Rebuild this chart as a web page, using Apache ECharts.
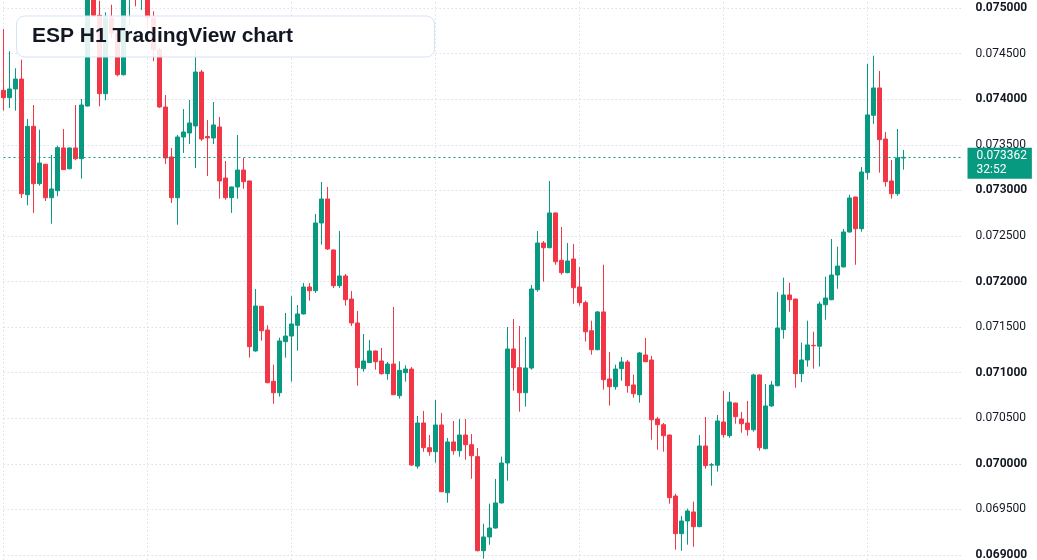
<!DOCTYPE html>
<html>
<head>
<meta charset="utf-8">
<title>ESP H1 TradingView chart</title>
<script src="https://cdn.jsdelivr.net/npm/echarts@6.0.0/dist/echarts.min.js"></script>
<style>
  html, body { margin: 0; padding: 0; background: #ffffff; overflow: hidden; }
  /* the price pane runs past the visible window at top and bottom, like the screenshot */
  #main { width: 1037px; height: 639px; margin-top: -38px; }
</style>
</head>
<body>
<div id="main"></div>
<script>
// ESP H1 candles, oldest first (151 bars)
const opens = [
  0.074097, 0.074016, 0.074112, 0.074221, 0.072952, 0.073702, 0.073073, 0.073286, 0.072919, 0.072996,
  0.073465, 0.073237, 0.073465, 0.073347, 0.073925, 0.075180, 0.074920, 0.074060, 0.074891, 0.074726,
  0.074268, 0.075150, 0.075240, 0.075120, 0.075200, 0.074891, 0.074543, 0.073914, 0.073366, 0.072919,
  0.073585, 0.073629, 0.073706, 0.074298, 0.073590, 0.073574, 0.073695, 0.073135, 0.072919, 0.073037,
  0.073223, 0.073103, 0.071238, 0.071728, 0.071468, 0.070905, 0.070780, 0.071340, 0.071402, 0.071520,
  0.071644, 0.071940, 0.071899, 0.072642, 0.072905, 0.072346, 0.071954, 0.072061, 0.071808, 0.071545,
  0.071044, 0.071110, 0.071238, 0.071128, 0.070989, 0.071095, 0.070747, 0.071000, 0.071040, 0.069975,
  0.070448, 0.070177, 0.070133, 0.070426, 0.069683, 0.070240, 0.070144, 0.070316, 0.070210, 0.070079,
  0.069047, 0.069198, 0.069296, 0.069571, 0.070009, 0.071260, 0.071055, 0.070780, 0.071051, 0.071910,
  0.072422, 0.072371, 0.072752, 0.072232, 0.072097, 0.072247, 0.071940, 0.071768, 0.071460, 0.071252,
  0.071666, 0.070931, 0.070846, 0.071044, 0.071117, 0.070865, 0.070758, 0.071194, 0.071139, 0.070492,
  0.070429, 0.070316, 0.069647, 0.069234, 0.069373, 0.069472, 0.069311, 0.070196, 0.069987, 0.069985,
  0.070459, 0.070309, 0.070667, 0.070492, 0.070448, 0.070374, 0.070975, 0.070166, 0.070635, 0.070857,
  0.071472, 0.071852, 0.071808, 0.070989, 0.071139, 0.071300, 0.071290, 0.071745, 0.071800, 0.072071,
  0.072160, 0.072543, 0.072927, 0.072579, 0.073195, 0.073823, 0.074123, 0.073563, 0.073103, 0.072963,
  0.073355
];
const highs = [
  0.074770, 0.074525, 0.074339, 0.074433, 0.073783, 0.073936, 0.073665, 0.073290, 0.073388, 0.073490,
  0.073673, 0.073470, 0.073936, 0.074002, 0.075230, 0.075260, 0.075080, 0.074953, 0.075036, 0.074760,
  0.075220, 0.075330, 0.075310, 0.075280, 0.075230, 0.074964, 0.074560, 0.074046, 0.073465, 0.073607,
  0.073892, 0.073991, 0.074543, 0.074320, 0.073772, 0.073969, 0.073805, 0.073322, 0.073040, 0.073607,
  0.073355, 0.073105, 0.071918, 0.071731, 0.071520, 0.071088, 0.071384, 0.071655, 0.071838, 0.071742,
  0.071984, 0.071984, 0.072741, 0.073092, 0.073037, 0.072350, 0.072554, 0.072082, 0.071896, 0.071677,
  0.071424, 0.071358, 0.071240, 0.071271, 0.071117, 0.071720, 0.071125, 0.071081, 0.071062, 0.070525,
  0.070580, 0.070316, 0.070700, 0.070558, 0.070284, 0.070470, 0.070492, 0.070492, 0.070327, 0.070174,
  0.069343, 0.069563, 0.069834, 0.070079, 0.071501, 0.071589, 0.071512, 0.071391, 0.071962, 0.072554,
  0.072444, 0.073103, 0.072755, 0.072598, 0.072422, 0.072412, 0.072159, 0.071790, 0.071570, 0.071677,
  0.072184, 0.071227, 0.071088, 0.071172, 0.071139, 0.070978, 0.071227, 0.071380, 0.071183, 0.070514,
  0.070448, 0.070320, 0.069672, 0.069428, 0.069508, 0.069585, 0.070316, 0.070514, 0.070009, 0.070536,
  0.070799, 0.070788, 0.070670, 0.070569, 0.070689, 0.070989, 0.070980, 0.070876, 0.070909, 0.071885,
  0.072042, 0.071987, 0.071810, 0.071329, 0.071570, 0.071449, 0.071779, 0.072053, 0.072466, 0.072382,
  0.072576, 0.072952, 0.072930, 0.073256, 0.074386, 0.074477, 0.074309, 0.073640, 0.073333, 0.073673,
  0.073443
];
const lows = [
  0.073874, 0.073903, 0.073874, 0.072916, 0.072836, 0.072752, 0.073051, 0.072883, 0.072634, 0.072935,
  0.073225, 0.073230, 0.073330, 0.073128, 0.073920, 0.074910, 0.073922, 0.073988, 0.074671, 0.074251,
  0.074260, 0.074817, 0.075019, 0.074978, 0.074781, 0.074416, 0.073905, 0.073289, 0.072861, 0.072623,
  0.073410, 0.073508, 0.073245, 0.073541, 0.073157, 0.073508, 0.072908, 0.072897, 0.072752, 0.072908,
  0.073018, 0.071164, 0.071230, 0.071351, 0.070885, 0.070660, 0.070737, 0.071164, 0.070901, 0.071241,
  0.071640, 0.071790, 0.071874, 0.072404, 0.072346, 0.071929, 0.071929, 0.071735, 0.071512, 0.070857,
  0.071011, 0.071105, 0.071033, 0.070978, 0.070923, 0.070755, 0.070715, 0.070901, 0.069976, 0.069947,
  0.070133, 0.070089, 0.070013, 0.069690, 0.069574, 0.070100, 0.070078, 0.070045, 0.069837, 0.069040,
  0.068960, 0.069113, 0.069290, 0.069565, 0.069815, 0.070802, 0.070572, 0.070627, 0.071033, 0.071888,
  0.071998, 0.072365, 0.072184, 0.072075, 0.072090, 0.071757, 0.071735, 0.071340, 0.071197, 0.071245,
  0.070813, 0.070638, 0.070813, 0.070912, 0.070780, 0.070726, 0.070671, 0.071115, 0.070265, 0.070155,
  0.070133, 0.069563, 0.069058, 0.069047, 0.069113, 0.069091, 0.069305, 0.069947, 0.069760, 0.069914,
  0.070287, 0.070287, 0.070440, 0.070342, 0.070309, 0.070353, 0.070144, 0.070160, 0.070625, 0.070850,
  0.071373, 0.071669, 0.070835, 0.070898, 0.071066, 0.071044, 0.071066, 0.071581, 0.071795, 0.071921,
  0.072155, 0.072538, 0.072184, 0.072546, 0.073117, 0.073731, 0.073194, 0.073040, 0.072908, 0.072941,
  0.073227
];
const closes = [
  0.074016, 0.074112, 0.074221, 0.072963, 0.073702, 0.073073, 0.073300, 0.072919, 0.073015, 0.073468,
  0.073227, 0.073465, 0.073347, 0.073936, 0.075180, 0.074920, 0.074060, 0.074891, 0.074726, 0.074268,
  0.075150, 0.075240, 0.075120, 0.075200, 0.074891, 0.074543, 0.073914, 0.073355, 0.072919, 0.073585,
  0.073640, 0.073739, 0.074298, 0.073563, 0.073575, 0.073717, 0.073103, 0.072919, 0.073037, 0.073223,
  0.073095, 0.071285, 0.071731, 0.071460, 0.070890, 0.070780, 0.071348, 0.071402, 0.071534, 0.071644,
  0.071940, 0.071899, 0.072642, 0.072905, 0.072357, 0.071954, 0.072061, 0.071801, 0.071545, 0.071055,
  0.071128, 0.071238, 0.071120, 0.070989, 0.071095, 0.070758, 0.071026, 0.071040, 0.069987, 0.070448,
  0.070177, 0.070133, 0.070426, 0.069694, 0.070240, 0.070144, 0.070316, 0.070210, 0.070089, 0.069047,
  0.069198, 0.069296, 0.069571, 0.070009, 0.071260, 0.071055, 0.070780, 0.071051, 0.071918, 0.072422,
  0.072371, 0.072752, 0.072217, 0.072097, 0.072225, 0.071932, 0.071768, 0.071449, 0.071252, 0.071666,
  0.070923, 0.070846, 0.071040, 0.071117, 0.070857, 0.070769, 0.071216, 0.071120, 0.070484, 0.070429,
  0.070309, 0.069629, 0.069234, 0.069373, 0.069483, 0.069311, 0.070196, 0.069980, 0.069990, 0.070470,
  0.070320, 0.070678, 0.070517, 0.070440, 0.070374, 0.070975, 0.070177, 0.070635, 0.070865, 0.071490,
  0.071852, 0.071801, 0.070989, 0.071139, 0.071304, 0.071295, 0.071753, 0.071819, 0.072071, 0.072170,
  0.072543, 0.072916, 0.072579, 0.073201, 0.073827, 0.074123, 0.073556, 0.073095, 0.072963, 0.073355,
  0.073362
];

const lastPrice = 0.073362;
const countdown = '32:52';

// hourly slots: the bars plus 10 empty slots of right margin
const hours = [];
for (let i = 0; i < opens.length + 10; i++) {
    hours.push('d' + Math.floor(i / 24) + ' ' + String(i % 24).padStart(2, '0') + ':00');
}

const ohlc = opens.map((o, i) => [o, closes[i], lows[i], highs[i]]);

const up = '#089981';
const down = '#f23645';
const gridColor = '#dcdfe5';
const font = 'Roboto, "Liberation Sans", Arial, sans-serif';

var dom = document.getElementById('main');
var myChart = echarts.init(dom, null, { renderer: 'canvas' });

var option = {
    animation: false,
    backgroundColor: '#ffffff',
    title: {
        text: 'ESP H1 TradingView chart',
        left: 16,
        top: 53.5,
        padding: [9, 142, 9, 16],
        backgroundColor: 'rgba(255,255,255,0.88)',
        borderColor: '#d5e3f7',
        borderWidth: 1,
        borderRadius: 8,
        textStyle: {
            fontFamily: '"Liberation Sans", Arial, sans-serif',
            fontSize: 21,
            lineHeight: 24,
            fontWeight: 'bold',
            color: '#131722'
        }
    },
    // the div is shifted up 38px, so 0.075 lands near y=6 and 0.069 near y=553 of the window
    grid: { left: 3.5, right: 73.5, top: 0.42, bottom: 0.42, outerBoundsMode: 'none', containLabel: false },
    xAxis: {
        type: 'category',
        data: hours,
        boundaryGap: false,
        axisLine: { show: false },
        axisTick: { show: false },
        axisLabel: { show: false },
        splitLine: {
            show: true,
            interval: function (index) { return index % 24 === 0; },
            lineStyle: { color: gridColor, width: 1, type: [1.5, 2.5] }
        }
    },
    yAxis: {
        type: 'value',
        position: 'right',
        min: 0.0685,
        max: 0.0755,
        interval: 0.0005,
        axisLine: { show: false },
        axisTick: { show: false },
        splitLine: {
            show: true,
            lineStyle: { color: gridColor, width: 1, type: [1.5, 2.5] }
        },
        axisLabel: {
            margin: 12,
            formatter: function (v) {
                const s = v.toFixed(6);
                return Math.round(v * 1e6) % 1000 === 0 ? '{b|' + s + '}' : '{n|' + s + '}';
            },
            rich: {
                b: { fontFamily: font, fontSize: 12, fontWeight: 'bold', color: '#131722' },
                n: { fontFamily: font, fontSize: 12, fontWeight: 'normal', color: '#131722' }
            }
        }
    },
    series: [
        {
            name: 'ESP',
            type: 'candlestick',
            data: ohlc,
            barWidth: 4,
            clip: false,
            itemStyle: {
                color: up,
                color0: down,
                borderColor: up,
                borderColor0: down,
                borderWidth: 1
            },
            markLine: {
                silent: true,
                animation: false,
                precision: 6,
                symbol: ['none', 'none'],
                lineStyle: { color: up, width: 1, type: [2, 3] },
                label: {
                    position: 'end',
                    distance: 4,
                    offset: [0, 6],
                    formatter: function (p) { return Number(p.value).toFixed(6) + '\n' + countdown; },
                    backgroundColor: up,
                    color: '#ffffff',
                    fontFamily: font,
                    fontSize: 12,
                    lineHeight: 14,
                    padding: [2, 5, 1, 9]
                },
                data: [{ yAxis: lastPrice }]
            }
        }
    ]
};

myChart.setOption(option);
window.addEventListener('resize', myChart.resize);
</script>
</body>
</html>
